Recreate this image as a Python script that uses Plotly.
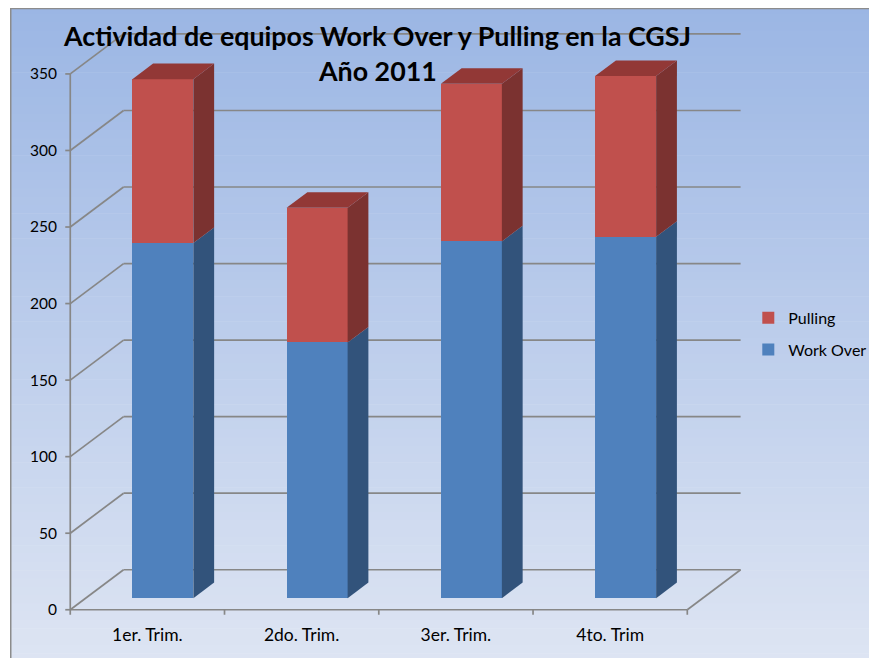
import plotly.graph_objects as go

# ---------------- data ----------------
categories = ["1er. Trim.", "2do. Trim.", "3er. Trim.", "4to. Trim"]
work_over = [232, 167, 233, 236]
pulling = [107, 88, 103, 105]
y_ticks = [0, 50, 100, 150, 200, 250, 300, 350]
title_line1 = "Actividad de equipos Work Over y Pulling en la CGSJ"
title_line2 = "Año 2011"

# ---------------- geometry / style ----------------
W, H = 877, 658
OFF = 8              # page body margin: figure px = screen px - OFF
PX_CAT = 154.25      # pixels per category unit
PX_VAL = 1.531       # pixels per value unit
X0_PX, Y0_PX = 70 - OFF, 610 - OFF
DX = 53.3 / PX_CAT   # depth offset (category units)
DY = 40.0 / PX_VAL   # depth offset (value units)
T1, T2 = 0.29, 0.68  # bar front/back depth fraction
BAR_W = 61 / PX_CAT
XR = [-0.06, 4.40]
YR = [-8, 380]
ML = X0_PX + XR[0] * PX_CAT
MR = W - (X0_PX + XR[1] * PX_CAT)
MT = Y0_PX - YR[1] * PX_VAL
MB = H - (Y0_PX - YR[0] * PX_VAL)
PW = W - ML - MR
PH = H - MT - MB

def px2paper_x(px):          # px given in screen coordinates
    return (px - OFF - ML) / PW

def px2paper_y(py):
    return (H - MB - (py - OFF)) / PH

FONT = "Lato, 'Open Sans', sans-serif"
GRID = "#878787"
RED_F, RED_S, RED_T = "#C0504D", "#7B3230", "#923836"
BLUE_F, BLUE_S, BLUE_T = "#4F81BD", "#32537B", "#3F6A9E"

fig = go.Figure()
shapes = []

# gradient background (decoration)
top_c = (155, 182, 228)
bot_c = (222, 229, 243)
n = 80
y_top, y_bot = 6, H + 12
for k in range(n):
    f = k / (n - 1)
    c = tuple(round(top_c[j] + (bot_c[j] - top_c[j]) * f) for j in range(3))
    ya = y_top + (y_bot - y_top) * k / n
    yb = y_top + (y_bot - y_top) * (k + 1) / n + 0.6
    shapes.append(dict(type="rect", xref="paper", yref="paper", layer="below",
                       x0=px2paper_x(10), x1=px2paper_x(W + 15),
                       y0=px2paper_y(ya), y1=px2paper_y(yb),
                       line=dict(width=0), fillcolor="rgb(%d,%d,%d)" % c))
# border
shapes.append(dict(type="rect", xref="paper", yref="paper", layer="below",
                   x0=px2paper_x(10.5), x1=px2paper_x(W + 15),
                   y0=px2paper_y(8.8), y1=px2paper_y(H + 15),
                   line=dict(width=1.5, color="#8c8c8c"), fillcolor="rgba(0,0,0,0)"))

ncat = len(categories)
def seg(x0, y0, x1, y1):
    shapes.append(dict(type="line", xref="x", yref="y", layer="below",
                       x0=x0, y0=y0, x1=x1, y1=y1, line=dict(color=GRID, width=1.7)))

# back-wall gridlines and left-wall diagonals
for v in y_ticks:
    seg(0, v, DX, v + DY)
    seg(DX, v + DY, ncat + DX, v + DY)
# floor
seg(0, 0, ncat, 0)
seg(ncat, 0, ncat + DX, DY)
# front value axis
seg(0, 0, 0, y_ticks[-1])
tick_len = 5 / PX_CAT
for v in y_ticks:
    seg(-tick_len, v, 0, v)
tick_len_y = 5 / PX_VAL
for i in range(ncat + 1):
    seg(i, 0, i, -tick_len_y)

# ---------------- bars ----------------
series = [("Work Over", work_over, BLUE_F, BLUE_S, BLUE_T, 2),
          ("Pulling", pulling, RED_F, RED_S, RED_T, 1)]
bases = [0] * ncat
seg_info = []
for name, vals, cf, cs, ct, rank in series:
    xs = [i + 0.5 + T1 * DX for i in range(ncat)]
    fig.add_trace(go.Bar(x=xs, y=vals, base=[b + T1 * DY for b in bases], width=BAR_W,
                         marker=dict(color=cf, line=dict(width=0)), name=name,
                         legendrank=rank, legendgroup=name, hoverinfo="skip"))
    seg_info.append((vals, list(bases), cs, ct))
    bases = [b + v for b, v in zip(bases, vals)]

# side and top faces
for si, (vals, bs, cs, ct) in enumerate(seg_info):
    for i in range(ncat):
        xl = i + 0.5 - BAR_W / 2
        xr = i + 0.5 + BAR_W / 2
        b0 = bs[i]
        b1 = bs[i] + vals[i]
        fig.add_trace(go.Scatter(
            x=[xr + T1 * DX, xr + T2 * DX, xr + T2 * DX, xr + T1 * DX, xr + T1 * DX],
            y=[b0 + T1 * DY, b0 + T2 * DY, b1 + T2 * DY, b1 + T1 * DY, b0 + T1 * DY],
            mode="lines", fill="toself", fillcolor=cs, line=dict(width=0),
            showlegend=False, hoverinfo="skip"))
        if si == len(seg_info) - 1:
            fig.add_trace(go.Scatter(
                x=[xl + T1 * DX, xr + T1 * DX, xr + T2 * DX, xl + T2 * DX, xl + T1 * DX],
                y=[b1 + T1 * DY, b1 + T1 * DY, b1 + T2 * DY, b1 + T2 * DY, b1 + T1 * DY],
                mode="lines", fill="toself", fillcolor=ct, line=dict(width=0),
                showlegend=False, hoverinfo="skip"))

# title
ann = [
    dict(text="<b>%s</b>" % title_line1, xref="paper", yref="paper",
         x=px2paper_x(377), y=px2paper_y(36), xanchor="center", yanchor="middle",
         showarrow=False, font=dict(family=FONT, size=26.8, color="#000000")),
    dict(text="<b>%s</b>" % title_line2, xref="paper", yref="paper",
         x=px2paper_x(377), y=px2paper_y(71), xanchor="center", yanchor="middle",
         showarrow=False, font=dict(family=FONT, size=26.8, color="#000000")),
]

fig.update_layout(
    width=W, height=H, autosize=False,
    margin=dict(l=ML, r=MR, t=MT, b=MB, pad=0, autoexpand=False),
    paper_bgcolor="#ffffff", plot_bgcolor="rgba(0,0,0,0)",
    barmode="overlay", bargap=0,
    shapes=shapes, annotations=ann,
    showlegend=True,
    legend=dict(x=px2paper_x(748), y=px2paper_y(301), xanchor="left", yanchor="top",
                bgcolor="rgba(0,0,0,0)", font=dict(family=FONT, size=16, color="#000000"),
                tracegroupgap=8, itemwidth=30),
    xaxis=dict(range=XR, showgrid=False, zeroline=False, showline=False,
               tickvals=[i + 0.5 for i in range(ncat)], ticktext=categories,
               ticks="", tickfont=dict(family=FONT, size=17.5, color="#000000"),
               ticklabelstandoff=0, automargin=False, fixedrange=True),
    yaxis=dict(range=YR, showgrid=False, zeroline=False, showline=False,
               tickvals=y_ticks, ticks="", tickfont=dict(family=FONT, size=15.5, color="#000000"),
               ticklabelstandoff=3, automargin=False, fixedrange=True),
)

fig.write_html("out.html")
